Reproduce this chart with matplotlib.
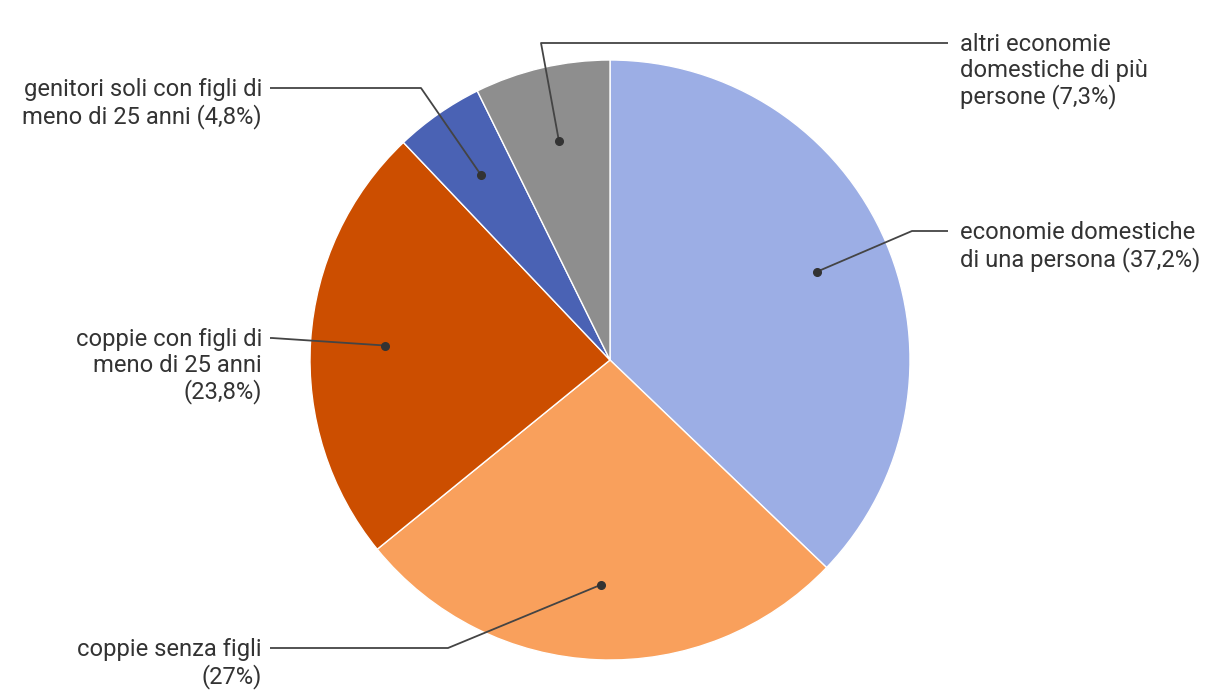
import numpy as np
import matplotlib.pyplot as plt

# household types (share in %)
labels = [
    "economie domestiche\ndi una persona (37,2%)",
    "coppie senza figli\n(27%)",
    "coppie con figli di\nmeno di 25 anni\n(23,8%)",
    "genitori soli con figli di\nmeno di 25 anni (4,8%)",
    "altri economie\ndomestiche di più\npersone (7,3%)",
]
shares = [37.2, 27.0, 23.8, 4.8, 7.3]
colors = ["#9CAEE5", "#F9A05C", "#CC4E00", "#4A62B4", "#8E8E8E"]

plt.rcParams['font.family'] = ['Roboto', 'DejaVu Sans']

W, H = 1220, 700
fig = plt.figure(figsize=(W / 100, H / 100), dpi=100)
ax = fig.add_axes([0, 0, 1, 1])

cx, cy, R = 610, 340, 300
wedges, _ = ax.pie(shares, colors=colors, startangle=90, counterclock=False,
                   radius=R, center=(cx, cy), frame=True,
                   wedgeprops=dict(edgecolor='white', linewidth=1))
ax.set_xlim(0, W)
ax.set_ylim(0, H)
ax.set_aspect('equal')
ax.axis('off')

# layout of labels: (elbow x, line y, line end x, text x, side)
layout = [
    (912, 469, 948, 960, 'left'),
    (448, 52, 270, 262, 'right'),
    (272, 362, 270, 262, 'right'),
    (421, 612, 270, 262, 'right'),
    (541, 657, 948, 960, 'left'),
]

line_col = "#444444"
for w, lab, (ex, ly, lx, tx, ha) in zip(wedges, labels, layout):
    mid = np.deg2rad((w.theta1 + w.theta2) / 2)
    px = cx + 0.75 * R * np.cos(mid)
    py = cy + 0.75 * R * np.sin(mid)
    ax.plot([px, ex, lx], [py, ly, ly], color=line_col, lw=1.3,
            solid_capstyle='butt', zorder=3)
    ax.plot(px, py, 'o', color="#333333", ms=5.5, zorder=4)
    ax.text(tx, ly + 10, lab, ha=ha, va='top', fontsize=17.1,
            color="#333333", linespacing=1.14, multialignment=ha)

fig.savefig("out.png", dpi=100)
